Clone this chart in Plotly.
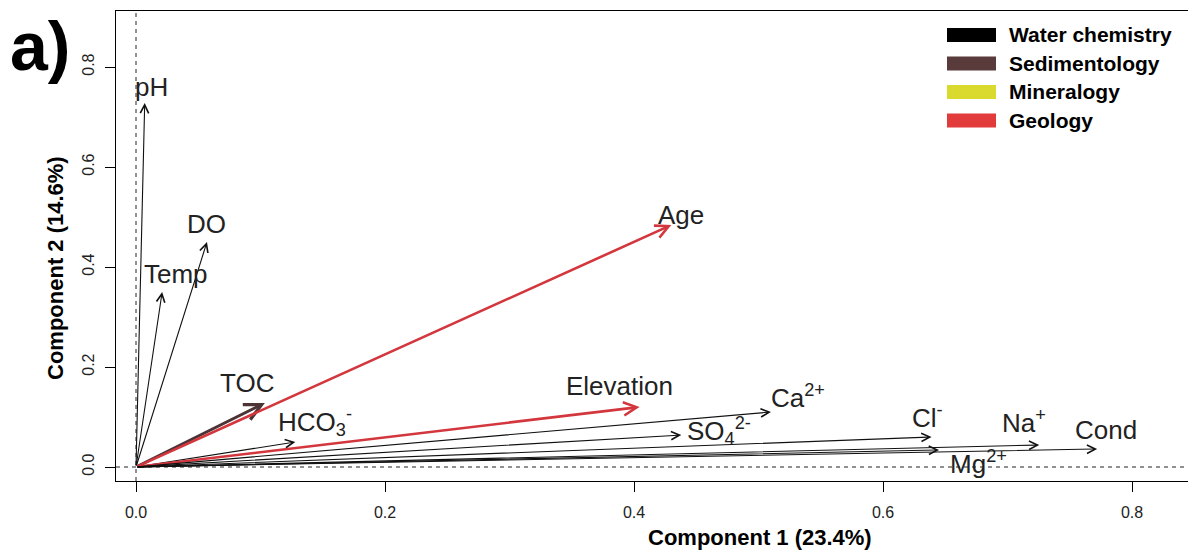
import plotly.graph_objects as go

# ---- data ----
variables = ['pH', 'Temp', 'DO', 'TOC', 'HCO3', 'Age', 'Elevation',
             'Ca', 'SO4', 'Cl', 'Na', 'Cond', 'Mg']
labels = ['pH', 'Temp', 'DO', 'TOC', 'HCO<sub>3</sub><sup>-</sup>', 'Age', 'Elevation',
          'Ca<sup>2+</sup>', 'SO<sub>4</sub><sup>2-</sup>', 'Cl<sup>-</sup>', 'Na<sup>+</sup>',
          'Cond', 'Mg<sup>2+</sup>']
comp1 = [0.007, 0.021, 0.057, 0.1035, 0.128, 0.430, 0.4045,
         0.510, 0.438, 0.639, 0.7255, 0.772, 0.645]
comp2 = [0.728, 0.350, 0.450, 0.128, 0.050, 0.484, 0.120,
         0.110, 0.064, 0.060, 0.044, 0.036, 0.034]
group = ['Water chemistry', 'Water chemistry', 'Water chemistry', 'Sedimentology',
         'Water chemistry', 'Geology', 'Geology', 'Water chemistry', 'Water chemistry',
         'Water chemistry', 'Water chemistry', 'Water chemistry', 'Water chemistry']

legend_groups = ['Water chemistry', 'Sedimentology', 'Mineralogy', 'Geology']
x_ticks = [0.0, 0.2, 0.4, 0.6, 0.8]
y_ticks = [0.0, 0.2, 0.4, 0.6, 0.8]
x_title = 'Component 1 (23.4%)'
y_title = 'Component 2 (14.6%)'

# ---- styles ----
arrow_color = {'Water chemistry': '#111111', 'Sedimentology': '#4b3336',
               'Mineralogy': '#d6d630', 'Geology': '#d3363d'}
legend_color = {'Water chemistry': '#000000', 'Sedimentology': '#5a3b3b',
                'Mineralogy': '#d9d92e', 'Geology': '#e13b3b'}
arrow_width = {'Water chemistry': 1.1, 'Sedimentology': 3.0,
               'Mineralogy': 2.5, 'Geology': 2.6}
arrow_size = {'Water chemistry': 1.5, 'Sedimentology': 1.1,
              'Mineralogy': 1.0, 'Geology': 1.0}
# label offsets in pixels (dx, dy up) from arrow tip
label_shift = {'pH': (7, 16), 'Temp': (14, 18), 'DO': (0, 18), 'TOC': (-18, 20),
               'HCO3': (20, 20), 'Age': (10, 10), 'Elevation': (-20, 21),
               'Ca': (27, 16), 'SO4': (38, 4), 'Cl': (-4, 21), 'Na': (-15, 24),
               'Cond': (9, 19), 'Mg': (39, -12)}

W, H = 1188, 555
ML, MR, MT, MB = 116, 0, 11, 74
PW, PH = W - ML - MR, H - MT - MB


def px(x):
    return (x - ML) / PW


def py(y):
    return (H - MB - y) / PH


sans = 'Liberation Sans, Arial, sans-serif'

fig = go.Figure()
# invisible trace to establish axes
fig.add_trace(go.Scatter(x=comp1, y=comp2, mode='markers',
                         marker=dict(size=1, opacity=0), hoverinfo='skip',
                         showlegend=False))

annotations = []
# arrows
for v, x, y, g in zip(variables, comp1, comp2, group):
    annotations.append(dict(
        x=x, y=y, xref='x', yref='y', ax=0, ay=0, axref='x', ayref='y',
        text='', showarrow=True, arrowhead=5, arrowsize=arrow_size[g],
        arrowwidth=arrow_width[g], arrowcolor=arrow_color[g],
        standoff=0, startstandoff=0))
# labels
for v, lab, x, y in zip(variables, labels, comp1, comp2):
    dx, dy = label_shift[v]
    annotations.append(dict(
        x=x, y=y, xref='x', yref='y', text=lab, showarrow=False,
        xshift=dx, yshift=dy, font=dict(family=sans, size=26, color='#222222'),
        xanchor='center', yanchor='middle'))

shapes = [
    dict(type='line', xref='x', yref='paper', x0=0, x1=0, y0=0, y1=1,
         line=dict(color='#222222', width=1, dash='4px,4px'), layer='below'),
    dict(type='line', xref='paper', yref='y', x0=0, x1=1, y0=0, y1=0,
         line=dict(color='#222222', width=1, dash='4px,4px'), layer='below'),
]

# manual legend
leg_y0 = 35
leg_dy = 28.5
for i, g in enumerate(legend_groups):
    yc = leg_y0 + i * leg_dy
    shapes.append(dict(type='rect', xref='paper', yref='paper',
                       x0=px(947), x1=px(996), y0=py(yc + 7), y1=py(yc - 7),
                       fillcolor=legend_color[g], line=dict(width=0)))
    annotations.append(dict(x=px(1007), y=py(yc), xref='paper', yref='paper',
                            text='<b>' + g + '</b>', showarrow=False,
                            xanchor='left', yanchor='middle',
                            font=dict(family=sans, size=21, color='#000000')))

# axis titles & panel letter
annotations.append(dict(x=px(760), y=py(537), xref='paper', yref='paper',
                        text='<b>' + x_title + '</b>', showarrow=False,
                        xanchor='center', yanchor='middle',
                        font=dict(family=sans, size=22, color='#000000')))
annotations.append(dict(x=px(55), y=py(268), xref='paper', yref='paper',
                        text='<b>' + y_title + '</b>', showarrow=False, textangle=-90,
                        xanchor='center', yanchor='middle',
                        font=dict(family=sans, size=22, color='#000000')))
annotations.append(dict(x=px(40), y=py(46), xref='paper', yref='paper',
                        text='<b>a)</b>', showarrow=False,
                        xanchor='center', yanchor='middle',
                        font=dict(family=sans, size=68, color='#000000')))

x0_px = 136
scale_x = 1245.0
y0_px = 467
scale_y = 500.0

fig.update_layout(
    width=W, height=H,
    margin=dict(l=ML, r=MR, t=MT, b=MB, pad=0),
    paper_bgcolor='white', plot_bgcolor='white',
    showlegend=False,
    annotations=annotations, shapes=shapes,
    xaxis=dict(range=[(ML - x0_px) / scale_x, (W - MR - x0_px) / scale_x],
               tickvals=x_ticks, ticktext=['%.1f' % t for t in x_ticks],
               ticks='outside', ticklen=10, tickwidth=1, tickcolor='#000000',
               ticklabelstandoff=7,
               showline=True, linecolor='#000000', linewidth=1, mirror=True,
               showgrid=False, zeroline=False,
               tickfont=dict(family=sans, size=16, color='#222222')),
    yaxis=dict(range=[(y0_px - (H - MB)) / scale_y, (y0_px - MT) / scale_y],
               tickvals=y_ticks, ticktext=['%.1f' % t for t in y_ticks],
               ticks='outside', ticklen=10, tickwidth=1, tickcolor='#000000',
               ticklabelstandoff=5,
               showline=True, linecolor='#000000', linewidth=1, mirror=False,
               showgrid=False, zeroline=False, tickangle=-90,
               tickfont=dict(family=sans, size=16, color='#222222')),
)

fig.write_html('out.html',
               config={'displayModeBar': False},
               post_script="document.body.style.margin='0px';")
